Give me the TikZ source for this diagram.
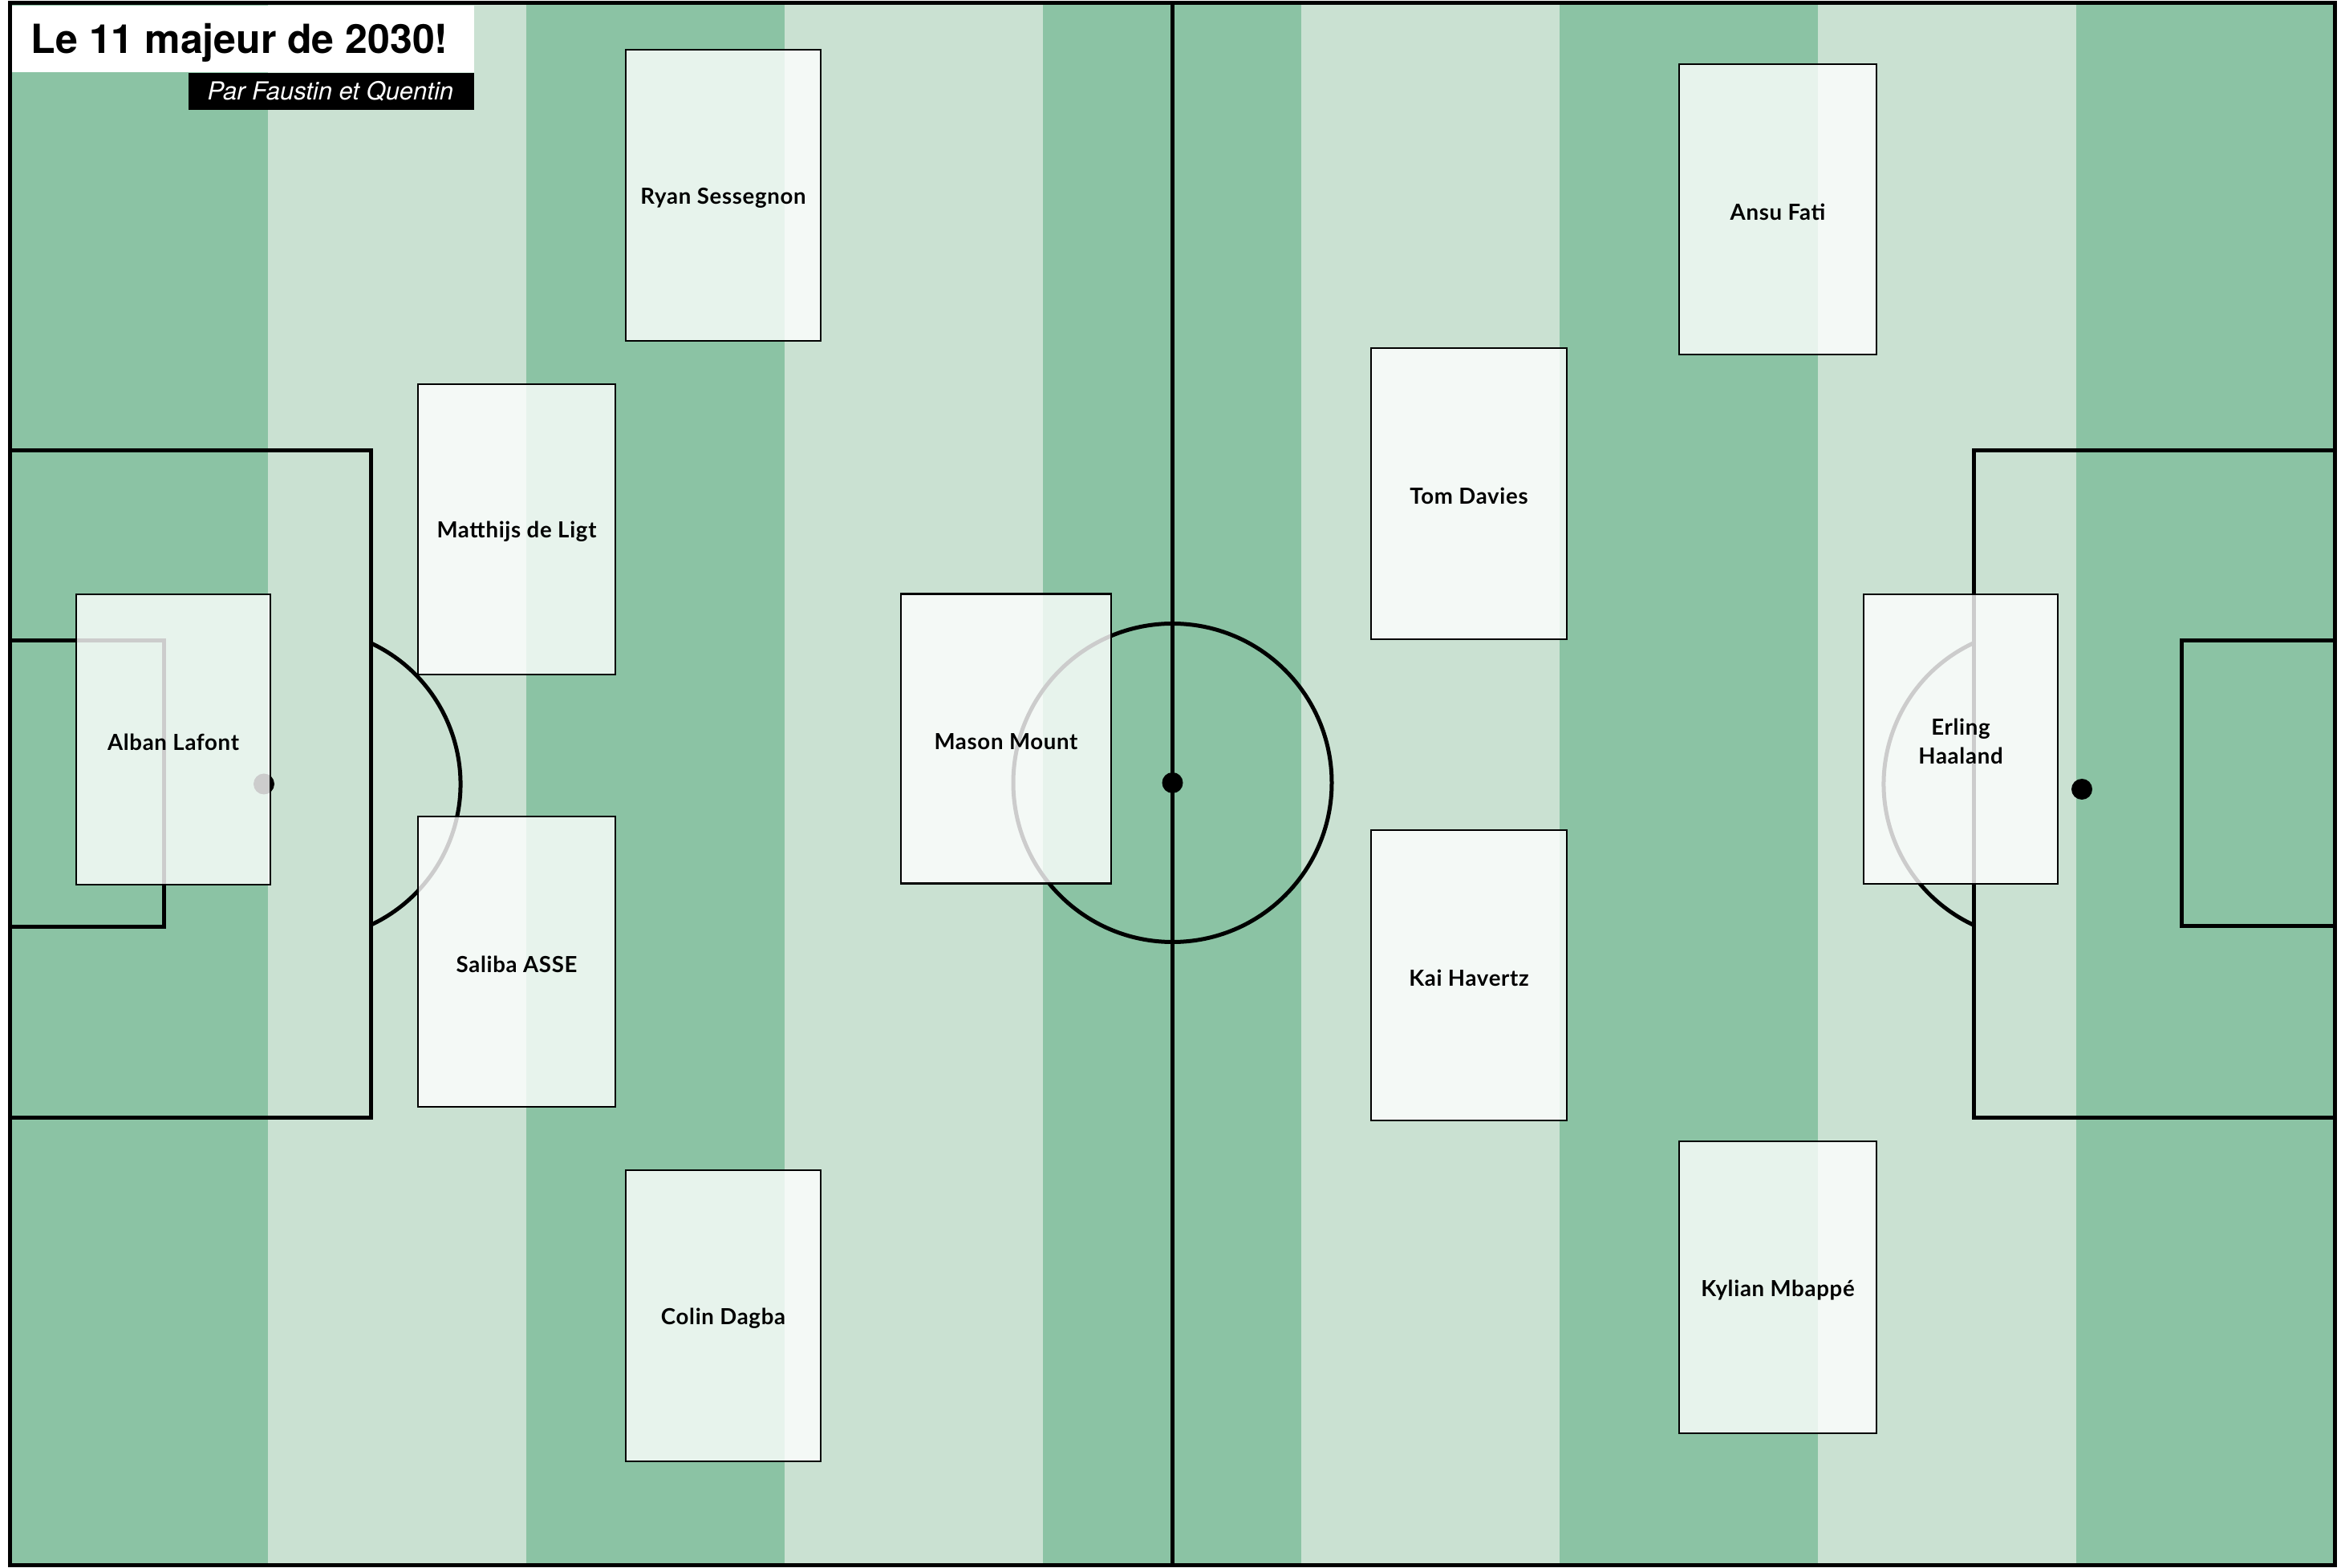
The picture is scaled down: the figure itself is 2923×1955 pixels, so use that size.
\documentclass[tikz,border=0pt]{standalone}
\usepackage{fontspec}
\setmainfont{Lato}
\newfontfamily\namefont[LetterSpace=2.5]{Lato}
\newfontfamily\titlefont{TeX Gyre Heros}
\definecolor{pdark}{HTML}{8BC3A4}
\definecolor{plight}{HTML}{CAE1D2}
\begin{document}
\begin{tikzpicture}[x=0.25pt,y=-0.25pt,
  pline/.style={line width=1.25pt, draw=black},
  spot/.style={fill=black},
  card/.style={draw=black, line width=0.65pt, fill=white, fill opacity=0.8,
    inner sep=0pt, outer sep=0pt},
  lbl/.style={text=black, text opacity=1, fill opacity=1, align=center, inner sep=0pt, yshift=-0.8pt,
    font=\namefont\bfseries\fontsize{6.9}{9}\selectfont},
  sz/.style 2 args={minimum width={#1*0.25pt}, minimum height={#2*0.25pt}},
  titletxt/.style={inner sep=0pt, font=\titlefont\bfseries\fontsize{12.5}{15}\selectfont},
  subtxt/.style={inner sep=0pt, text=white, font=\titlefont\itshape\fontsize{7.75}{9}\selectfont}
]
\useasboundingbox (0,0) rectangle (2923,1955);
\fill[white] (0,0) rectangle (2923,1955);
% stripes
\foreach \i/\c in {0/pdark,1/plight,2/pdark,3/plight,4/pdark,5/plight,6/pdark,7/plight,8/pdark}
  \fill[\c] ({12+322*\i},4) rectangle ({12+322*(\i+1)},1951);
% pitch lines
\draw[pline] (12,4) rectangle (2910,1951);
\draw[pline] (1461.5,4) -- (1461.5,1951);
\draw[pline] (1461.5,976) circle[radius=198.5];
\fill[spot] (1461.5,976) circle[radius=13];
% left
\draw[pline] (12,562) rectangle (462,1393);
\draw[pline] (12,799) rectangle (204,1156);
\fill[spot] (329,977.5) circle[radius=13];
\draw[pline] (462,801.7) arc[start angle=-65, end angle=65, radius=194];
% right
\draw[pline] (2460,562) rectangle (2910,1393);
\draw[pline] (2719,799) rectangle (2910,1155);
\fill[spot] (2595,984) circle[radius=13];
\draw[pline] (2460,801.7) arc[start angle=245, end angle=115, radius=194];
% players
\node[card, sz={243}{363}, label={[lbl]center:Ryan Sessegnon}]   (ryan)   at (901.5,243.5) {};
\node[card, sz={246}{362}, label={[lbl]center:Matthijs de Ligt}] (ligt)   at (644,660)     {};
\node[card, sz={242}{362}, label={[lbl]center:Alban Lafont}]     (alban)  at (216,922)     {};
\node[card, sz={246}{362}, label={[lbl]center:Saliba ASSE}]      (saliba) at (644,1199)    {};
\node[card, sz={243}{363}, label={[lbl]center:Colin Dagba}]      (colin)  at (901.5,1640.5){};
\node[card, sz={262}{361}, label={[lbl]center:Mason Mount}]      (mason)  at (1254,921)    {};
\node[card, sz={244}{363}, label={[lbl]center:Tom Davies}]       (tom)    at (1831,615.5)  {};
\node[card, sz={244}{362}, label={[lbl]center:Kai Havertz}]      (kai)    at (1831,1216)   {};
\node[card, sz={246}{362}, label={[lbl]center:Ansu Fati}]        (ansu)   at (2216,261)    {};
\node[card, sz={242}{361}, label={[lbl]center:Erling\\Haaland}]  (erling) at (2444,921.5)  {};
\node[card, sz={246}{364}, label={[lbl]center:Kylian Mbappé}]    (mbappe) at (2216,1605)   {};
% title
\fill[white] (15,7) rectangle (591,90);
\fill[black] (235,91) rectangle (591,137);
\node[titletxt, anchor=base west] (title) at (38,67) {Le 11 majeur de 2030!};
\node[subtxt, anchor=base east] (subtitle) at (566,125) {Par Faustin et Quentin};
\end{tikzpicture}
\end{document}
